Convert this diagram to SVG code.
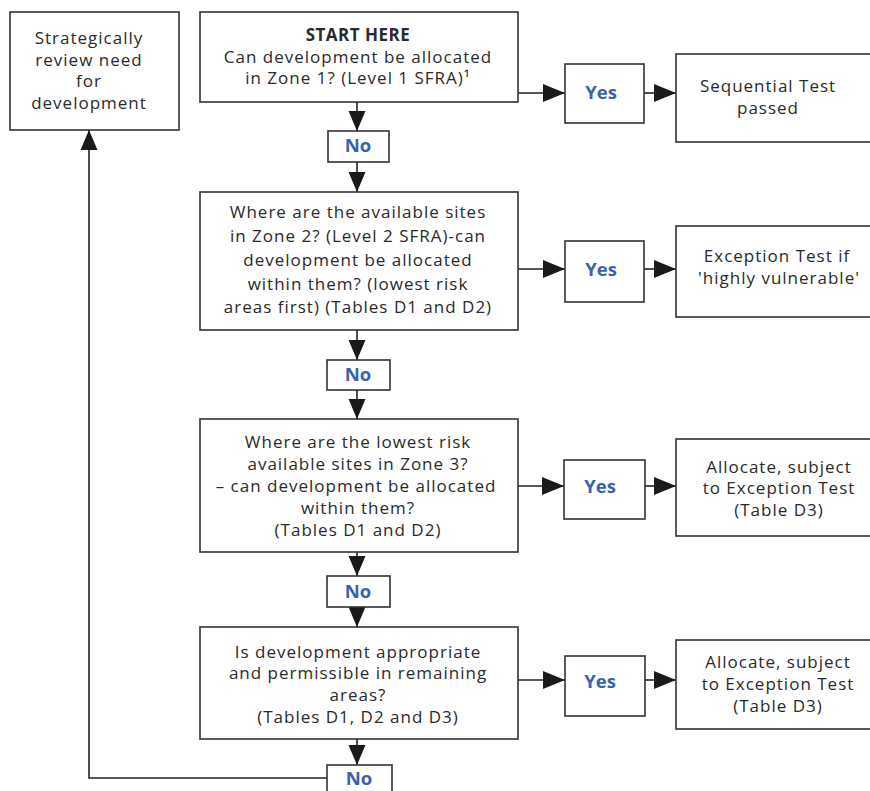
<svg xmlns="http://www.w3.org/2000/svg" width="870" height="791" viewBox="0 0 870 791">
<style>
.box{fill:#ffffff;stroke:#333333;stroke-width:1.6}
.t{font-family:"Open Sans","Noto Sans","DejaVu Sans",sans-serif;font-size:17px;letter-spacing:1px;fill:#2a2a2a;text-anchor:middle}
.b{font-weight:bold;letter-spacing:0.5px}
.lbl{font-family:"Open Sans","Noto Sans","DejaVu Sans",sans-serif;font-size:18.5px;font-weight:bold;fill:#3a62b0;text-anchor:middle}
.c{fill:none;stroke:#222222;stroke-width:1.6}
</style>
<defs>
<marker id="av" markerUnits="userSpaceOnUse" markerWidth="20" markerHeight="18" refX="20" refY="8.5" orient="auto" viewBox="0 0 20 17">
<path d="M0,0 L20,8.5 L0,17 z" fill="#1a1a1a"/>
</marker>
<marker id="ah" markerUnits="userSpaceOnUse" markerWidth="22" markerHeight="18" refX="22" refY="9" orient="auto" viewBox="0 0 22 18">
<path d="M0,0 L22,9 L0,18 z" fill="#1a1a1a"/>
</marker>
</defs>
<rect width="870" height="791" fill="#ffffff"/>
<g id="connectors">
<line class="c" x1="357" y1="102" x2="357" y2="131" marker-end="url(#av)"/>
<line class="c" x1="357" y1="162" x2="357" y2="192" marker-end="url(#av)"/>
<line class="c" x1="357" y1="330" x2="357" y2="360" marker-end="url(#av)"/>
<line class="c" x1="357" y1="390" x2="357" y2="419" marker-end="url(#av)"/>
<line class="c" x1="357" y1="552" x2="357" y2="576" marker-end="url(#av)"/>
<line class="c" x1="357" y1="607" x2="357" y2="627" marker-end="url(#av)"/>
<line class="c" x1="357" y1="739" x2="357" y2="765" marker-end="url(#av)"/>
<polyline class="c" points="327,778 89,778 89,130" marker-end="url(#av)"/>
<line class="c" x1="518" y1="93" x2="565" y2="93" marker-end="url(#ah)"/>
<line class="c" x1="644" y1="93" x2="676" y2="93" marker-end="url(#ah)"/>
<line class="c" x1="518" y1="269" x2="565" y2="269" marker-end="url(#ah)"/>
<line class="c" x1="644" y1="269" x2="676" y2="269" marker-end="url(#ah)"/>
<line class="c" x1="518" y1="486" x2="564" y2="486" marker-end="url(#ah)"/>
<line class="c" x1="645" y1="486" x2="676" y2="486" marker-end="url(#ah)"/>
<line class="c" x1="518" y1="680" x2="565" y2="680" marker-end="url(#ah)"/>
<line class="c" x1="645" y1="680" x2="676" y2="680" marker-end="url(#ah)"/>
</g>
<g id="review">
<rect class="box" x="10" y="12" width="169" height="118"/>
<text class="t" x="89" y="44">Strategically</text>
<text class="t" x="89" y="65.5">review need</text>
<text class="t" x="89" y="87">for</text>
<text class="t" x="89" y="108.5">development</text>
</g>
<g id="start">
<rect class="box" x="200" y="12" width="318" height="90"/>
<text class="t b" x="358" y="41">START HERE</text>
<text class="t" x="358" y="62.5">Can development be allocated</text>
<text class="t" x="358" y="84">in Zone 1? (Level 1 SFRA)¹</text>
</g>
<g id="no1">
<rect class="box" x="328" y="131" width="61" height="31"/>
<text class="lbl" x="358" y="152">No</text>
</g>
<g id="yes1">
<rect class="box" x="565" y="64" width="79" height="59"/>
<text class="lbl" x="601" y="99">Yes</text>
</g>
<g id="res1">
<rect class="box" x="676" y="54" width="200" height="88"/>
<text class="t" x="768" y="91.5">Sequential Test</text>
<text class="t" x="768" y="113.5">passed</text>
</g>
<g id="zone2">
<rect class="box" x="200" y="192" width="318" height="138"/>
<text class="t" x="358" y="218">Where are the available sites</text>
<text class="t" x="358" y="242">in Zone 2? (Level 2 SFRA)-can</text>
<text class="t" x="358" y="266">development be allocated</text>
<text class="t" x="358" y="290">within them? (lowest risk</text>
<text class="t" x="358" y="313">areas first) (Tables D1 and D2)</text>
</g>
<g id="yes2">
<rect class="box" x="565" y="241" width="79" height="61"/>
<text class="lbl" x="601" y="276">Yes</text>
</g>
<g id="res2">
<rect class="box" x="676" y="226" width="200" height="91"/>
<text class="t" x="777" y="262">Exception Test if</text>
<text class="t" x="779" y="284">'highly vulnerable'</text>
</g>
<g id="no2">
<rect class="box" x="327" y="360" width="63" height="30"/>
<text class="lbl" x="358" y="381">No</text>
</g>
<g id="zone3">
<rect class="box" x="200" y="419" width="318" height="133"/>
<text class="t" x="358" y="447.5">Where are the lowest risk</text>
<text class="t" x="358" y="469.5">available sites in Zone 3?</text>
<text class="t" x="356" y="492">– can development be allocated</text>
<text class="t" x="358" y="514">within them?</text>
<text class="t" x="358" y="535.5">(Tables D1 and D2)</text>
</g>
<g id="yes3">
<rect class="box" x="564" y="460" width="81" height="59"/>
<text class="lbl" x="600" y="493">Yes</text>
</g>
<g id="res3">
<rect class="box" x="676" y="439" width="200" height="97"/>
<text class="t" x="779" y="472.5">Allocate, subject</text>
<text class="t" x="779" y="494">to Exception Test</text>
<text class="t" x="779" y="515.5">(Table D3)</text>
</g>
<g id="no3">
<rect class="box" x="327" y="576" width="63" height="31"/>
<text class="lbl" x="358" y="598">No</text>
</g>
<g id="zone4">
<rect class="box" x="200" y="627" width="318" height="112"/>
<text class="t" x="358" y="657.5">Is development appropriate</text>
<text class="t" x="358" y="679">and permissible in remaining</text>
<text class="t" x="358" y="701">areas?</text>
<text class="t" x="358" y="722.5">(Tables D1, D2 and D3)</text>
</g>
<g id="yes4">
<rect class="box" x="565" y="656" width="80" height="60"/>
<text class="lbl" x="600" y="688">Yes</text>
</g>
<g id="res4">
<rect class="box" x="676" y="640" width="200" height="89"/>
<text class="t" x="778" y="668">Allocate, subject</text>
<text class="t" x="778" y="690">to Exception Test</text>
<text class="t" x="778" y="712">(Table D3)</text>
</g>
<g id="no4">
<rect class="box" x="327" y="765" width="65" height="40"/>
<text class="lbl" x="359" y="785">No</text>
</g>
</svg>
